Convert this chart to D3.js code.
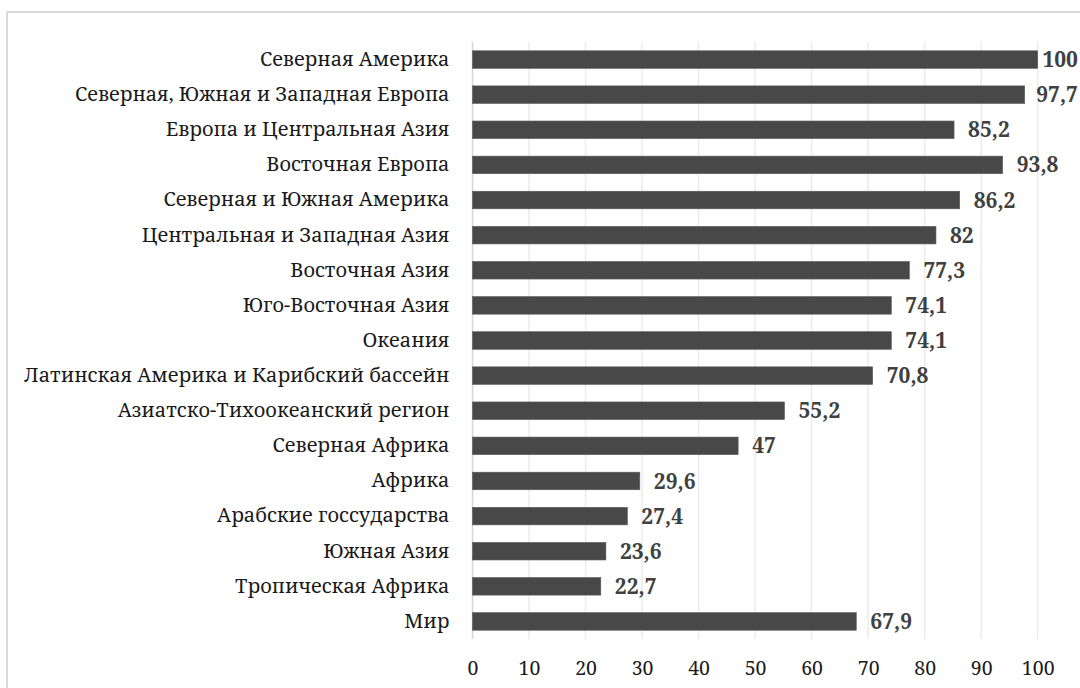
<!DOCTYPE html>
<html>
<head>
<meta charset="utf-8">
<script src="https://cdn.jsdelivr.net/npm/d3@7/dist/d3.min.js"></script>
<style>
  html, body { margin: 0; padding: 0; background: #fff; }
  svg { display: block; }
</style>
</head>
<body>
<div id="chart"></div>
<script>
// Regions, top to bottom
const regions = [
  "Северная Америка",
  "Северная, Южная и Западная Европа",
  "Европа и Центральная Азия",
  "Восточная Европа",
  "Северная и Южная Америка",
  "Центральная и Западная Азия",
  "Восточная Азия",
  "Юго-Восточная Азия",
  "Океания",
  "Латинская Америка и Карибский бассейн",
  "Азиатско-Тихоокеанский регион",
  "Северная Африка",
  "Африка",
  "Арабские госсударства",
  "Южная Азия",
  "Тропическая Африка",
  "Мир"
];

// Value per region
const values = [100, 97.7, 85.2, 93.8, 86.2, 82, 77.3, 74.1, 74.1, 70.8, 55.2, 47, 29.6, 27.4, 23.6, 22.7, 67.9];

// Axis ticks
const ticks = [0, 10, 20, 30, 40, 50, 60, 70, 80, 90, 100];

const W = 1080, H = 688;
// Serif face with full Cyrillic coverage
const FONT = '"Noto Serif", "DejaVu Serif", serif';

const svg = d3.select("#chart").append("svg")
  .attr("width", W).attr("height", H);

// Outer frame of the chart area (runs past the right and bottom edges)
svg.append("rect")
  .attr("x", 7).attr("y", 12)
  .attr("width", W + 20).attr("height", H + 20)
  .attr("fill", "#fff")
  .attr("stroke", "#d9d9d9").attr("stroke-width", 2);

const x = d3.scaleLinear().domain([0, 100]).range([472.5, 1037.7]);
const y = d3.scaleBand().domain(regions).range([42, 639])
  .paddingInner(0.5).paddingOuter(0.25);

// Vertical gridlines
svg.append("g").selectAll("line").data(ticks).join("line")
  .attr("x1", d => x(d)).attr("x2", d => x(d))
  .attr("y1", 42).attr("y2", 639)
  .attr("stroke", d => d === 0 ? "#d6d6d6" : "#ebebeb")
  .attr("stroke-width", 1.5);

// Bottom tick labels
const xAxis = d3.axisBottom(x).tickValues(ticks).tickSize(0).tickPadding(0)
  .tickFormat(d3.format("d"));
const gx = svg.append("g").attr("transform", "translate(0,660)").call(xAxis);
gx.attr("font-family", null).attr("font-size", null);
gx.select(".domain").remove();
gx.selectAll("text")
  .style("font-family", FONT).style("font-size", "19.5px")
  .attr("fill", "#1a1a1a").attr("dy", "0.75em");

// Category labels
const yAxis = d3.axisLeft(y).tickSize(0).tickPadding(23);
const gy = svg.append("g").attr("transform", "translate(472.5,0)").call(yAxis);
gy.attr("font-family", null).attr("font-size", null);
gy.select(".domain").remove();
gy.selectAll("text")
  .style("font-family", FONT).style("font-size", "20px")
  .attr("fill", "#1a1a1a");

// Bars
svg.append("g").selectAll("rect").data(regions).join("rect")
  .attr("x", x(0))
  .attr("y", d => y(d))
  .attr("width", (d, i) => x(values[i]) - x(0))
  .attr("height", y.bandwidth())
  .attr("fill", "#484848")
  .attr("stroke", "#5a5a5a").attr("stroke-width", 0.6);

// Value labels, kept inside the right edge
const fmt = v => String(v).replace(".", ",");
const labels = svg.append("g").selectAll("text").data(regions).join("text")
  .attr("y", d => y(d) + y.bandwidth() / 2)
  .attr("dy", "0.36em")
  .style("font-family", FONT).style("font-size", "21px")
  .style("font-weight", "bold")
  .attr("fill", "#404040")
  .text((d, i) => fmt(values[i]));
labels.attr("x", function (d, i) {
  const w = this.getComputedTextLength();
  return Math.min(x(values[i]) + 14, 1078 - w);
});
</script>
</body>
</html>
